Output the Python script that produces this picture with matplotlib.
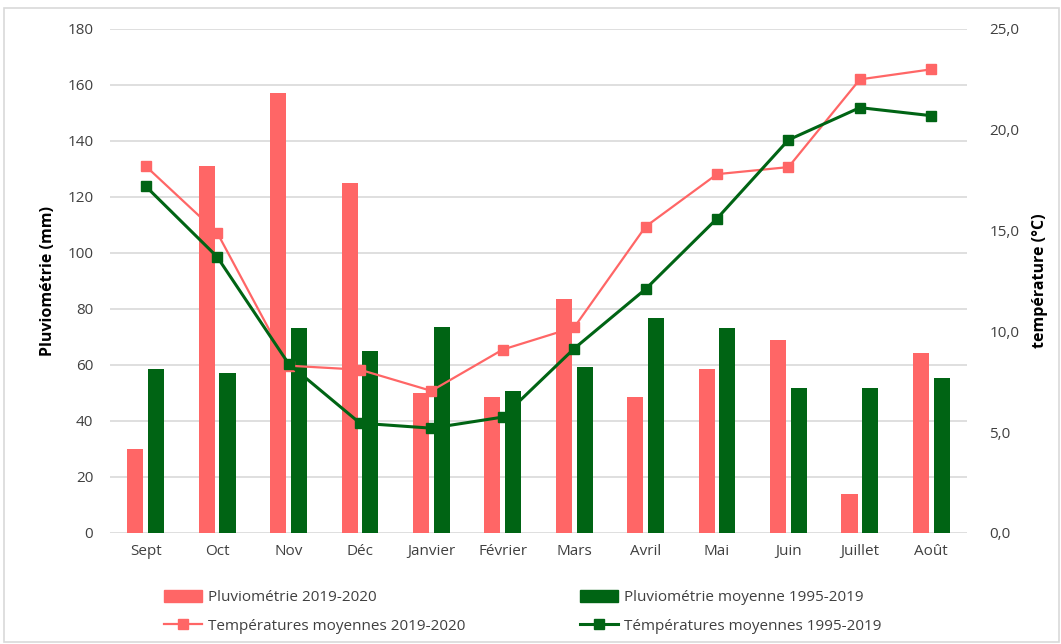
import matplotlib.pyplot as plt
import numpy as np
from matplotlib.lines import Line2D
from matplotlib.patches import Patch, Rectangle
from matplotlib.ticker import FuncFormatter

plt.rcParams['font.family'] = ['Open Sans', 'DejaVu Sans']

mois = ['Sept', 'Oct', 'Nov', 'Déc', 'Janvier', 'Février', 'Mars',
        'Avril', 'Mai', 'Juin', 'Juillet', 'Août']

# pluie (mm)
pluie_2019 = [30, 131, 157, 125, 50, 48.5, 83.5, 48.7, 58.6, 69, 14, 64.4]
pluie_moy = [58.5, 57.3, 73.1, 65, 73.7, 50.7, 59.4, 76.7, 73.1, 51.9, 51.9, 55.2]

# temperatures (°C)
temp_2019 = [18.2, 14.9, 8.3, 8.1, 7.05, 9.1, 10.2, 15.2, 17.8, 18.15, 22.5, 23.0]
temp_moy = [17.2, 13.7, 8.4, 5.45, 5.2, 5.75, 9.15, 12.1, 15.6, 19.5, 21.1, 20.7]

ROSE = '#FF6666'
VERT = '#006414'
GRIS = '#D9D9D9'

fig = plt.figure(figsize=(10.61, 6.44), dpi=100)
ax = fig.add_axes([110/1061, 1-533/644, 857/1061, 504/644])
ax2 = ax.twinx()

x = np.arange(len(mois))
w = 0.225
off = 0.145
ax.bar(x - off, pluie_2019, w, color=ROSE, zorder=2)
ax.bar(x + off, pluie_moy, w, color=VERT, zorder=2)

ax2.plot(x, temp_2019, color=ROSE, lw=1.6, marker='s', ms=7, zorder=3)
ax2.plot(x, temp_moy, color=VERT, lw=2.2, marker='s', ms=7.5, zorder=3)

ax.set_xlim(-0.5, len(mois) - 0.5)
ax.set_ylim(0, 180)
ax.set_yticks(range(0, 181, 20))
ax2.set_ylim(0, 25)
ax2.set_yticks(range(0, 26, 5))
ax2.yaxis.set_major_formatter(FuncFormatter(lambda v, p: f'{v:.1f}'.replace('.', ',')))

ax.set_xticks(x)
ax.set_xticklabels(mois)
ax.grid(axis='y', color=GRIS, lw=1.2, zorder=0)
ax.set_axisbelow(True)
for a in (ax, ax2):
    for s in a.spines.values():
        s.set_visible(False)
    a.tick_params(length=0, labelsize=11, colors='#404040')
ax.tick_params(axis='y', pad=12)
ax.tick_params(axis='x', pad=8)
ax2.tick_params(axis='y', pad=16)

ax.set_ylabel('Pluviométrie (mm)', fontsize=11.5, fontweight='bold', labelpad=8)
ax2.set_ylabel('température (°C)', fontsize=11.5, fontweight='bold', rotation=90, labelpad=9)

handles = [Patch(color=ROSE), Line2D([], [], color=ROSE, lw=1.6, marker='s', ms=7),
           Patch(color=VERT), Line2D([], [], color=VERT, lw=2.2, marker='s', ms=7.5)]
labels = ['Pluviométrie 2019-2020', 'Températures moyennes 2019-2020',
          'Pluviométrie moyenne 1995-2019', 'Témpératures moyennes 1995-2019']
fig.legend(handles, labels, ncol=2, loc='upper left', bbox_to_anchor=(150/1061, 1-576/644),
           frameon=False, fontsize=11, handlelength=2.5, handleheight=0.9,
           columnspacing=7.5, labelspacing=0.85, handletextpad=0.4, labelcolor='#404040')

fig.patches.append(Rectangle((4/1061, 2/644), 1-6/1061, 1-10/644, transform=fig.transFigure,
                             fill=False, edgecolor=GRIS, lw=1.2))

fig.savefig('out.png', dpi=100)
